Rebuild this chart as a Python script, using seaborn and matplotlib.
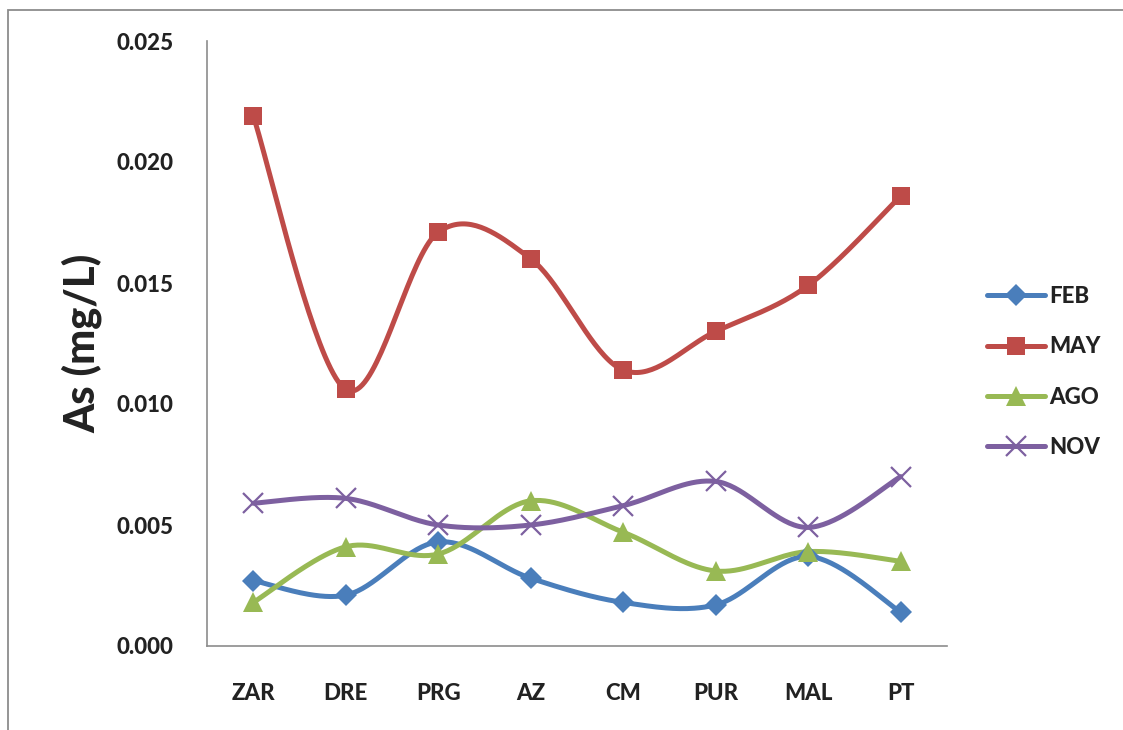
import numpy as np
import pandas as pd
import matplotlib
matplotlib.use("Agg")
import matplotlib.pyplot as plt
from matplotlib.lines import Line2D
from matplotlib.patches import Rectangle
import seaborn as sns

# Sampling sites and arsenic concentrations (mg/L) per campaign
sites = ["ZAR", "DRE", "PRG", "AZ", "CM", "PUR", "MAL", "PT"]
feb = [0.0027, 0.0021, 0.0043, 0.0028, 0.0018, 0.0017, 0.0037, 0.0014]
may = [0.0219, 0.0106, 0.0171, 0.0160, 0.0114, 0.0130, 0.0149, 0.0186]
ago = [0.0018, 0.0041, 0.0038, 0.0060, 0.0047, 0.0031, 0.0039, 0.0035]
nov = [0.0059, 0.0061, 0.0050, 0.0050, 0.0058, 0.0068, 0.0049, 0.0070]
series_names = ["FEB", "MAY", "AGO", "NOV"]
yticks = [0.000, 0.005, 0.010, 0.015, 0.020, 0.025]

colors = {"FEB": "#4A7EBB", "MAY": "#BE4B48", "AGO": "#98B954", "NOV": "#7D60A0"}
markers = {"FEB": "D", "MAY": "s", "AGO": "^", "NOV": "x"}
msizes = {"FEB": 11, "MAY": 13, "AGO": 14, "NOV": 14}
LW = 3.6
WEIGHT = "black"

sns.set_style("white")
plt.rcParams["font.family"] = ["Lato", "DejaVu Sans"]
plt.rcParams["font.weight"] = "bold"


def smooth(xs, ys, n=40):
    """Bezier smoothing through every point (spreadsheet-style smoothed line)."""
    xs = np.asarray(xs, float)
    ys = np.asarray(ys, float)
    P = np.column_stack([xs, ys])
    ext = np.vstack([P[0], P, P[-1]])
    out = []
    t = np.linspace(0, 1, n)[:, None]
    for i in range(len(P) - 1):
        p0, p3 = ext[i + 1], ext[i + 2]
        c1 = p0 + (ext[i + 2] - ext[i]) / 6.0
        c2 = p3 - (ext[i + 3] - ext[i + 1]) / 6.0
        seg = ((1 - t) ** 3) * p0 + 3 * ((1 - t) ** 2) * t * c1 + 3 * (1 - t) * t ** 2 * c2 + t ** 3 * p3
        out.append(seg if i == 0 else seg[1:])
    out = np.vstack(out)
    return out[:, 0], out[:, 1]


values = {"FEB": feb, "MAY": may, "AGO": ago, "NOV": nov}
xpos = np.arange(len(sites))

frames = []
for name in series_names:
    sx, sy = smooth(xpos, values[name])
    frames.append(pd.DataFrame({"x": sx, "y": sy, "serie": name}))
curves = pd.concat(frames, ignore_index=True)

pts = pd.DataFrame({
    "x": np.tile(xpos, len(series_names)),
    "y": np.concatenate([values[n] for n in series_names]),
    "serie": np.repeat(series_names, len(sites)),
})

fig = plt.figure(figsize=(11.23, 7.30), dpi=100)
ax = fig.add_axes([207 / 1123, 1 - 646 / 730, (947 - 207) / 1123, (646 - 41) / 730])

sns.lineplot(data=curves, x="x", y="y", hue="serie", palette=colors, sort=False,
             estimator=None, linewidth=LW, legend=False, ax=ax)
for name in series_names:
    sub = pts[pts["serie"] == name]
    if markers[name] == "x":
        ax.plot(sub["x"], sub["y"], linestyle="none", marker="x", ms=msizes[name],
                mew=1.6, color=colors[name], zorder=5)
    else:
        ax.plot(sub["x"], sub["y"], linestyle="none", marker=markers[name],
                ms=msizes[name], mew=0, color=colors[name], zorder=5)

ax.set_xlim(-0.5, len(sites) - 0.5)
ax.set_ylim(0, 0.025)
ax.set_xticks(xpos)
ax.set_xticklabels(sites)
ax.set_yticks(yticks)
ax.set_yticklabels([f"{v:.3f}" for v in yticks])
ax.tick_params(axis="both", length=0, labelsize=16, colors="#222222")
ax.tick_params(axis="y", pad=24)
ax.tick_params(axis="x", pad=27)
for lab in ax.get_xticklabels() + ax.get_yticklabels():
    lab.set_fontweight(WEIGHT)
ax.set_xlabel("")
ax.set_ylabel("As (mg/L)", fontsize=30, fontweight=WEIGHT, color="#222222", labelpad=10)

for side in ["top", "right"]:
    ax.spines[side].set_visible(False)
for side in ["left", "bottom"]:
    ax.spines[side].set_color("#8C8C8C")
    ax.spines[side].set_linewidth(1.2)

handles = []
for name in series_names:
    if markers[name] == "x":
        h = Line2D([], [], color=colors[name], lw=LW, marker="x", ms=msizes[name], mew=1.6)
    else:
        h = Line2D([], [], color=colors[name], lw=LW, marker=markers[name], ms=msizes[name], mew=0)
    handles.append(h)
leg = fig.legend(handles, series_names, loc="center left",
                 bbox_to_anchor=(978 / 1123, 1 - 372 / 730), frameon=False,
                 prop={"family": ["Lato", "DejaVu Sans"], "weight": WEIGHT, "size": 16},
                 handlelength=2.6, handletextpad=0.2, labelspacing=1.32, borderaxespad=0)
for t in leg.get_texts():
    t.set_color("#222222")

# Outer chart frame
fig.patches.append(Rectangle((8 / 1123, -0.1), 1.2, 1 - 10 / 730 + 0.1,
                             transform=fig.transFigure, fill=False,
                             edgecolor="#8C8C8C", linewidth=1.3))

fig.savefig("out.png", dpi=100)
